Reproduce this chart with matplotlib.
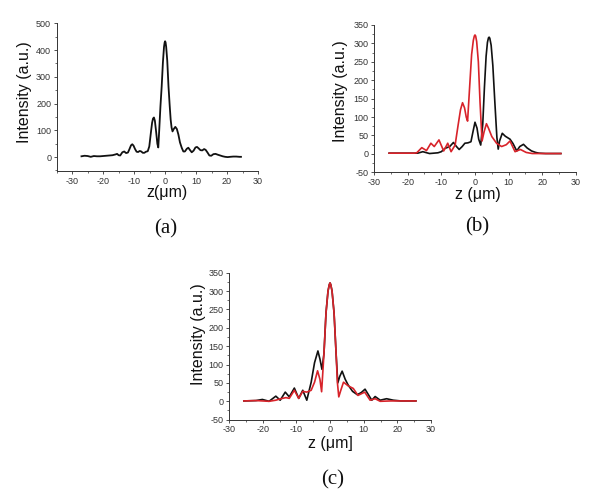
import matplotlib.pyplot as plt
from matplotlib.ticker import MultipleLocator

plt.rcParams['font.family'] = ['Liberation Sans', 'DejaVu Sans']
plt.rcParams['axes.unicode_minus'] = False

# panel (a): single black trace
A_Z = [-27, -26, -25, -24, -23, -22, -21, -20, -19, -18, -17, -16, -15.5, -15,
       -14.5, -13.8, -13.2, -12.6, -12, -11.5, -11, -10.6, -10.2, -9.7, -9.2,
       -8.7, -8.2, -7.7, -7.2, -6.7, -6.2, -5.6, -5.1, -4.6, -4.2, -3.9, -3.6,
       -3.3, -2.9, -2.5, -2.2, -1.9, -1.5, -1.1, -0.7, -0.35, -0.15, 0, 0.15,
       0.35, 0.7, 1.1, 1.5, 1.8, 2.1, 2.4, 2.8, 3.3, 3.8, 4.3, 4.8, 5.4, 5.9,
       6.4, 7, 7.5, 8, 8.6, 9.2, 9.8, 10.3, 10.8, 11.4, 12, 12.6, 13.1, 13.7,
       14.3, 14.9, 15.6, 16.3, 17, 17.8, 18.6, 19.4, 20.2, 21, 22, 23, 24,
       24.5]
A_I = [3, 5, 4, 1, 4, 3, 3, 4, 5, 6, 7, 10, 12, 7,
       6, 18, 21, 15, 17, 30, 44, 48, 43, 30, 20,
       19, 23, 21, 16, 16, 20, 22, 40, 90, 128, 144, 148,
       136, 95, 50, 36, 100, 190, 264, 355, 412, 428, 433, 429,
       412, 360, 264, 190, 140, 110, 96, 105, 113, 105, 84, 55, 34, 21,
       21, 31, 35, 27, 18, 24, 36, 38, 33, 26, 25, 30, 27, 17,
       6, 5, 11, 12, 9, 6, 3, 1, 0, 1, 2, 2, 1,
       1]

# panel (b)
B_BLACK_Z = [-25.5, -21, -17, -15.5, -13.5, -11, -10, -8.9, -7.5, -6.4, -5.5,
             -4.7, -3.8, -3, -2.1, -1.2, -0.6, 0, 0.6, 1.1, 1.7, 2.3, 2.8, 3.3,
             3.7, 4.0, 4.2, 4.4, 4.8, 5.3, 5.9, 6.5, 6.9, 7.3, 8.1, 9, 10.4,
             11.3, 12.4, 13.3, 14.4, 15.5, 16.8, 18, 19, 21, 25.5]
B_BLACK_I = [2, 2, 2, 6, 1, 3, 6, 15, 20, 31, 20,
             12, 20, 29, 30, 33, 60, 86, 70, 40, 24, 80, 180, 265,
             303, 315, 317, 314, 295, 240, 140, 45, 13, 35, 56, 48, 40,
             28, 8, 20, 26, 16, 8, 4, 2, 1, 1]
B_RED_Z = [-25.5, -20, -18, -17.3, -15.8, -14.4, -13.1, -12.1, -10.7, -9.3,
           -8.1, -7.1, -5.9, -5, -4.3, -3.7, -3.1, -2.6, -2.2, -1.6, -1, -0.5,
           -0.2, 0, 0.2, 0.5, 1, 1.5, 2.1, 2.7, 3.4, 4, 5, 6.4, 7.9, 9.3,
           10.4, 11.9, 13.5, 15.2, 17, 20, 25.5]
B_RED_I = [2, 2, 2, 3, 17, 9, 29, 20, 38, 8,
           29, 6, 24, 79, 120, 139, 125, 100, 89, 180, 270, 308,
           320, 323, 320, 305, 250, 140, 35, 60, 82, 70, 47, 29, 20, 25,
           35, 6, 12, 4, 1, 1, 1]

# panel (c)
C_BLACK_Z = [-25.6, -22, -20.1, -18.1, -16.1, -14.8, -13.3, -12.1, -10.6,
             -9.3, -8.1, -6.9, -5.6, -4.6, -3.6, -3, -2.4, -1.8, -1.2, -0.6,
             -0.2, 0, 0.2, 0.6, 1.2, 1.8, 2.3, 2.9, 3.6, 4.5, 5.4, 6.7, 8.1,
             9.3, 10.4, 11.4, 12.4, 13.4, 14.9, 16.8, 18.8, 21, 25.5]
C_BLACK_I = [1, 2, 5, 0, 14, 3, 25, 12, 36,
             8, 30, 3, 52, 105, 137, 115, 87, 130, 240, 300,
             318, 322, 318, 300, 240, 130, 50, 68, 82, 60, 44, 27, 18,
             24, 33, 18, 3, 13, 3, 7, 3, 1, 1]
C_RED_Z = [-25.6, -22, -18.1, -16.1, -14.6, -13.1, -12.1, -10.6, -9.3, -8.1,
           -6.9, -5.6, -4.6, -3.7, -3, -2.5, -1.8, -1.2, -0.6, -0.2, 0, 0.2,
           0.6, 1.2, 1.8, 2.2, 2.6, 3.2, 4, 5.4, 6.9, 8.3, 10.3, 11.9, 13.4,
           14.9, 18, 21, 25.5]
C_RED_I = [1, 2, 0, 3, 7, 10, 8, 30, 8, 27,
           25, 30, 52, 83, 60, 26, 130, 240, 300, 318, 322, 318,
           300, 240, 130, 50, 12, 30, 52, 42, 35, 16, 25, 3, 7,
           0, 1, 1, 1]

BLACK = '#111111'
RED = '#d8232a'


def style_axes(ax, xlim, ylim, ymajor):
    ax.set_xlim(*xlim)
    ax.set_ylim(*ylim)
    ax.xaxis.set_major_locator(MultipleLocator(10))
    ax.xaxis.set_minor_locator(MultipleLocator(5))
    ax.yaxis.set_major_locator(MultipleLocator(ymajor))
    ax.yaxis.set_minor_locator(MultipleLocator(ymajor / 2))
    for side in ('top', 'right'):
        ax.spines[side].set_visible(False)
    for side in ('left', 'bottom'):
        ax.spines[side].set_linewidth(0.7)
        ax.spines[side].set_color('#333333')
    ax.tick_params(which='major', direction='out', length=2.5, width=0.6,
                   labelsize=6.5, pad=1.5, colors='#333333')
    ax.tick_params(which='minor', direction='out', length=1.5, width=0.5,
                   colors='#333333')


fig = plt.figure(figsize=(6, 5.04), dpi=100)

ax_a = fig.add_axes([0.0945, 0.6607, 0.3355, 0.293])
ax_a.plot(A_Z, A_I, color=BLACK, linewidth=1.3)
style_axes(ax_a, (-35, 30), (-52, 500), 100)

ax_b = fig.add_axes([0.6233, 0.6581, 0.3367, 0.2923])
ax_b.plot(B_BLACK_Z, B_BLACK_I, color=BLACK, linewidth=1.2)
ax_b.plot(B_RED_Z, B_RED_I, color=RED, linewidth=1.2)
style_axes(ax_b, (-30, 30), (-50, 350), 50)

ax_c = fig.add_axes([0.3817, 0.1673, 0.3367, 0.2917])
ax_c.plot(C_BLACK_Z, C_BLACK_I, color=BLACK, linewidth=1.2)
ax_c.plot(C_RED_Z, C_RED_I, color=RED, linewidth=1.2)
style_axes(ax_c, (-30, 30), (-50, 350), 50)

W, H = 600.0, 504.0
lab_kw = dict(fontsize=11.5, color='#111111', ha='center', va='center')
# y labels
fig.text(25 / W, 1 - 92.5 / H, 'Intensity (a.u.)', rotation=90, **lab_kw)
fig.text(340 / W, 1 - 91.5 / H, 'Intensity (a.u.)', rotation=90, **lab_kw)
fig.text(198 / W, 1 - 334 / H, 'Intensity (a.u.)', rotation=90, **lab_kw)
# x labels
fig.text(167 / W, 1 - 193 / H, 'z(μm)', **lab_kw)
fig.text(478 / W, 1 - 195 / H, 'z (μm)', **lab_kw)
fig.text(330 / W, 1 - 443.5 / H, 'z (μm]', **lab_kw)

# panel tags
tag_kw = dict(fontsize=15, family=['Liberation Serif', 'DejaVu Serif'],
              ha='center', va='center', color='#111111')
fig.text(166 / W, 1 - 229 / H, '(a)', **tag_kw)
fig.text(477 / W, 1 - 227 / H, '(b)', **tag_kw)
fig.text(333 / W, 1 - 480 / H, '(c)', **tag_kw)

fig.savefig('out.png', dpi=100)
